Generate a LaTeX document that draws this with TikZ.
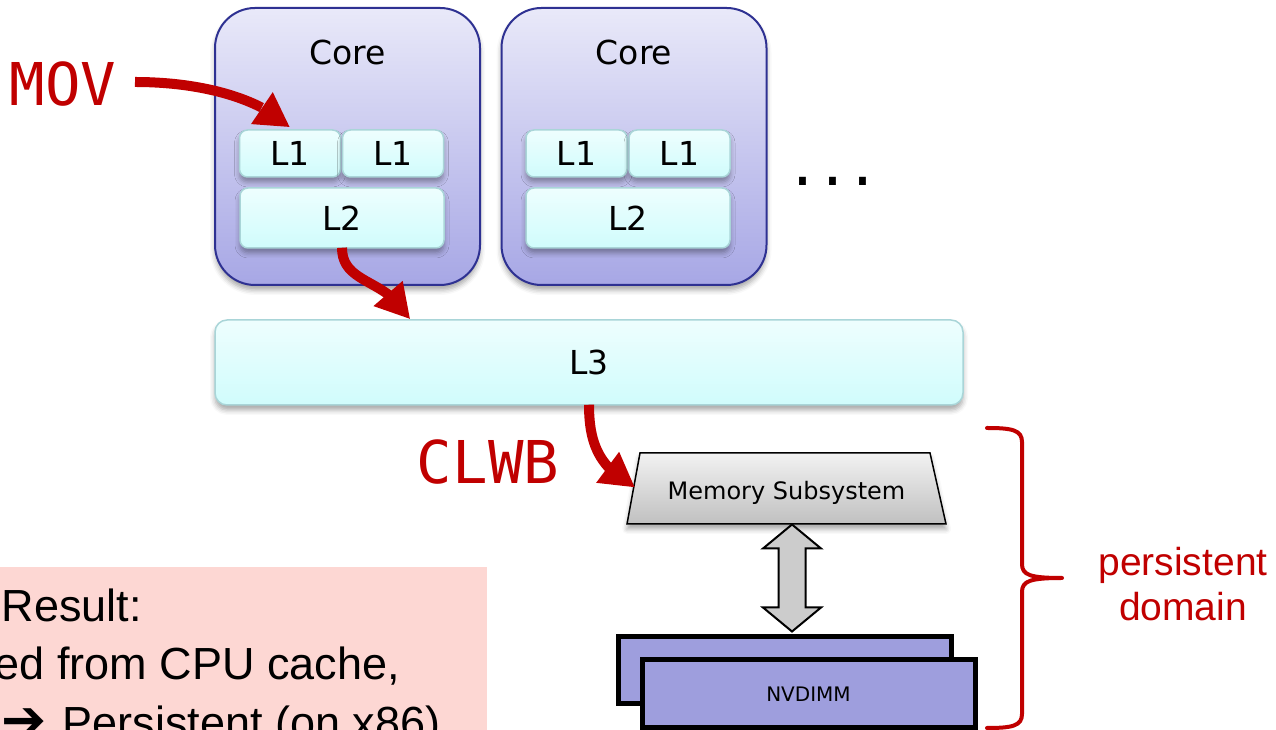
\documentclass[tikz,border=0pt]{standalone}
\usepackage{fontspec}
\setmainfont{DejaVu Sans}
\newfontfamily\monofont{DejaVu Sans Mono}
\newfontfamily\arialfont{Liberation Sans}
\newfontfamily\symfont{DejaVu Sans}
\usetikzlibrary{arrows.meta,bending,calc,shadows.blur}

\definecolor{coretop}{HTML}{E9E9F9}
\definecolor{corebot}{HTML}{A7A7E5}
\definecolor{coreedge}{HTML}{2E3192}
\definecolor{cachetop}{HTML}{EEFEFE}
\definecolor{cachebot}{HTML}{D0FCFC}
\definecolor{cacheedge}{HTML}{A9D5D8}
\definecolor{flowred}{HTML}{C00000}
\definecolor{memtop}{HTML}{F2F2F2}
\definecolor{membot}{HTML}{C0C0C0}
\definecolor{nvfill}{HTML}{9E9EDD}
\definecolor{notebg}{HTML}{FDD7D3}
\definecolor{busgray}{HTML}{CCCCCC}

\begin{document}
\begin{tikzpicture}[x=1pt,y=1pt,
  softshadow/.style={blur shadow={shadow xshift=0pt,shadow yshift=-5pt,shadow blur radius=5pt,shadow opacity=35}},
  corebox/.style={draw=coreedge,line width=2pt,rounded corners=40pt,
    top color=coretop,bottom color=corebot,inner sep=0pt,
    minimum width=265pt,minimum height=277pt,softshadow},
  cachebox/.style={draw=cacheedge,line width=1.5pt,rounded corners=8pt,
    top color=cachetop,bottom color=cachebot,inner sep=0pt,
    font=\fontsize{33}{38}\selectfont,softshadow},
  l1box/.style={cachebox,minimum width=101pt,minimum height=47pt},
  l2box/.style={cachebox,minimum width=204pt,minimum height=60pt},
  corelabel/.style={font=\fontsize{33}{38}\selectfont},
  instr/.style={text=flowred,font=\monofont\fontsize{59}{64}\selectfont},
  flow/.style={draw=flowred,line width=10pt,
    -{Triangle[length=34pt,width=36pt,flex]}},
  dimm/.style={draw=black,line width=5pt,fill=nvfill,inner sep=0pt,
    minimum width=333pt,minimum height=67pt},
  notetext/.style={anchor=base west,font=\arialfont\fontsize{45}{50}\selectfont},
]
\useasboundingbox (0,0) rectangle (1276,730);
\clip (0,0) rectangle (1276,730);

% ---- cores with private caches ----
\node[corebox] (core1) at (347.5,583.5) {};
\node[corebox] (core2) at (634,583.5) {};
\node[corelabel] (core1t) at (347.5,678) {Core};
\node[corelabel] (core2t) at (634,678) {Core};

\node[l1box] (l1a) at (290,576.5) {L1};
\node[l1box] (l1b) at (393,576.5) {L1};
\node[l2box] (l2a) at (342,512) {L2};
\node[l1box] (l1c) at (576.5,576.5) {L1};
\node[l1box] (l1d) at (679.5,576.5) {L1};
\node[l2box] (l2b) at (628,512) {L2};

\node[font=\fontsize{66}{70}\selectfont,inner sep=0pt] (more) at (833,549) {.\kern9pt.\kern9pt.};

% ---- shared last level cache ----
\node[cachebox,rounded corners=12pt,minimum width=748pt,minimum height=85pt] (l3) at (589,367.5) {L3};

% ---- memory subsystem ----
\coordinate (memc) at (786.5,241.5);
\path[draw=black,line width=1.5pt,top color=memtop,bottom color=membot,softshadow]
  ($(memc)+(-159.5,-35.5)$) -- ($(memc)+(159.5,-35.5)$)
  -- ($(memc)+(143.5,35.5)$) -- ($(memc)+(-146.5,35.5)$) -- cycle;
\node[font=\fontsize{24}{28}\selectfont] (mem) at ($(memc)+(0,-4)$) {Memory Subsystem};

% ---- NVDIMM modules ----
\node[dimm] (nvb) at (784.5,59.5) {};
\node[dimm,minimum height=68pt,font=\fontsize{20}{24}\selectfont] (nvf) at (808.5,36) {NVDIMM};

% ---- bus between memory subsystem and NVDIMM ----
\coordinate (dt) at ($(memc)+(5.5,-36)$);
\coordinate (db) at ($(dt |- nvb.north)+(0,3)$);
\draw[line width=2pt,fill=busgray,line join=miter]
  (dt) -- ++(29,-24) -- ++(-15.5,0) -- ($(db)+(13.5,24)$) -- ++(15.5,0) -- (db)
  -- ++(-29,24) -- ++(15.5,0) -- ($(dt)+(-13.5,-24)$) -- ++(-15.5,0) -- cycle;

% ---- instructions and data movement ----
\node[instr] (mov) at (63,646) {MOV};
\node[instr] (clwb) at (488,268) {CLWB};

\coordinate (movs) at (135,648);
\draw[flow] (movs) .. controls (205,648) and (262,630) .. ($(l1a.north)+(0,2)$);
\draw[flow] ($(l2a.south)+(0,1)$) .. controls (342,445) and (388,452) .. ($(l3.north west)+(196,0)$);
\coordinate (clwbend) at ($(memc)+(-151.5,1)$);
\draw[flow] ($(l3.south)+(0,1)$) .. controls (589,285) and (600,262) .. (clwbend);

% ---- persistent domain brace ----
\coordinate (bt) at (987,302);
\coordinate (bm) at (1062,152);
\coordinate (bb) at (987,2);
\draw[flowred,line width=4pt,line cap=round,line join=round]
  (bt) .. controls (1012,302) and (1022,300) .. (1022,288) -- (1022,166)
  .. controls (1022,155) and (1030,152) .. (bm)
  .. controls (1030,152) and (1022,149) .. (1022,138) -- (1022,16)
  .. controls (1022,4) and (1012,2) .. (bb);
\node[text=flowred,align=center,font=\arialfont\fontsize{39}{45}\selectfont] (pd) at (1183,146) {persistent\\domain};

% ---- result note ----
\fill[notebg] (-10,163) rectangle (487,-10);
\node[notetext] (n1) at (-2,108) {Result:};
\node[notetext] (n2) at (-9,50) {ed from CPU cache,};
\node[notetext] (n3) at (-2,-9) {{\symfont\fontsize{54}{58}\selectfont ➔}\hspace{16pt}Persistent (on x86)};
\end{tikzpicture}
\end{document}
